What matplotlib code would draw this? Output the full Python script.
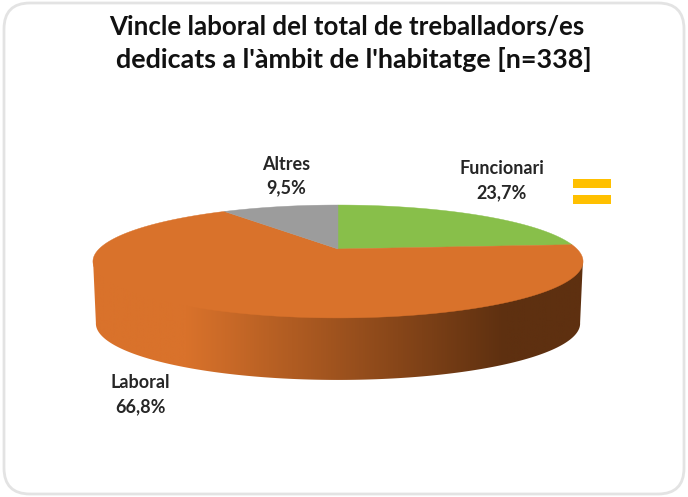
import numpy as np
import matplotlib
matplotlib.use("Agg")
import matplotlib.pyplot as plt
from matplotlib.patches import Polygon, FancyBboxPatch, Rectangle
from matplotlib.colors import LinearSegmentedColormap

title_lines = ["Vincle laboral del total de treballadors/es",
               "dedicats a l'àmbit de l'habitatge [n=338]"]
categories = ["Funcionari", "Laboral", "Altres"]
values = [23.7, 66.8, 9.5]
value_labels = ["23,7%", "66,8%", "9,5%"]
colors = ["#88BF4A", "#D9722B", "#9C9C9C"]

plt.rcParams["font.family"] = ["Lato", "DejaVu Sans"]
W, H = 688, 497
fig = plt.figure(figsize=(W / 100, H / 100), dpi=100)
ax = fig.add_axes([0, 0, 1, 1])
ax.set_xlim(0, W)
ax.set_ylim(H, 0)
ax.axis("off")

box = FancyBboxPatch((4, 3), 680, 491, boxstyle="round,pad=0,rounding_size=26",
                     fc="white", ec="#E3E3E3", lw=2, zorder=1)
ax.add_patch(box)

# perspective projection of a unit circle onto the pie's top face
CX, CY, BX, BY, K = 338, 249, 239, 53.7, 0.221
DEPTH, SHRINK = 62, 0.988


def project(theta):
    X, Y = np.sin(theta), np.cos(theta)
    d = 1 + K * Y
    return CX + BX * X / d, CY - BY * Y / d


# side wall (its upper edge runs a little under the top face)
t = np.linspace(np.pi / 2 + 0.21, 3 * np.pi / 2 - 0.21, 300)
xs, ys = project(t)
xb = CX + (xs - CX) * SHRINK
yb = ys + DEPTH
wall = Polygon(np.r_[np.c_[xs, ys - 3], np.c_[xb, yb][::-1]], closed=True, fc="none", ec="none", zorder=2)
ax.add_patch(wall)
cmap = LinearSegmentedColormap.from_list(
    "wall", [(0, "#D9722B"), (0.19, "#D9722B"), (0.84, "#5E3010"), (1, "#5E3010")])
img = ax.imshow(np.linspace(0, 1, 512)[None, :], extent=(93, 583, 400, 240), cmap=cmap,
                aspect="auto", zorder=2)
img.set_clip_path(wall)
ax.set_xlim(0, W)
ax.set_ylim(H, 0)

# top face
start = 0.0
for v, c in zip(values, colors):
    a = np.linspace(start, start + v / sum(values) * 2 * np.pi, 200)
    x, y = project(a)
    ax.add_patch(Polygon(np.r_[[[CX, CY]], np.c_[x, y]], closed=True, fc=c, ec=c, lw=0.3, zorder=3))
    start = a[-1]

# labels
label_pos = [(502, 168, 193), (140, 383, 407), (286, 164, 188)]
for cat, lab, (lx, y1, y2) in zip(categories, value_labels, label_pos):
    ax.text(lx, y1, cat, ha="center", va="center", fontsize=13, fontweight="bold", color="#262626", zorder=4)
    ax.text(lx, y2, lab, ha="center", va="center", fontsize=13, fontweight="bold", color="#262626", zorder=4)

for line, tx, ty, fs in zip(title_lines, (346.5, 354), (27, 60), (18.6, 19.4)):
    ax.text(tx, ty, line, ha="center", va="center", fontsize=fs, fontweight="bold",
            color="#111111", zorder=4)

# yellow marks
for y in (178.5, 194.5):
    ax.add_patch(Rectangle((573, y), 38, 9, fc="#FFC000", ec="none", zorder=4))

fig.savefig("out.png", dpi=100)
